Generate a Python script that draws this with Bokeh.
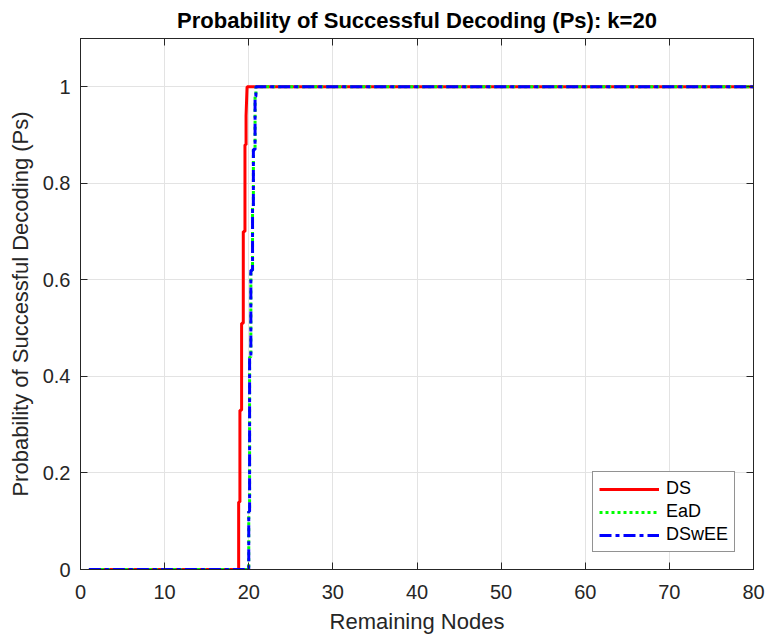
from bokeh.plotting import figure
from bokeh.models import Range1d, LinearAxis, FixedTicker
from bokeh.embed import file_html
from bokeh.resources import INLINE

# ---- data ----
x_ticks = [0, 10, 20, 30, 40, 50, 60, 70, 80]
x_tick_labels = ["0", "10", "20", "30", "40", "50", "60", "70", "80"]
y_ticks = [0, 0.2, 0.4, 0.6, 0.8, 1.0]
y_tick_labels = ["0", "0.2", "0.4", "0.6", "0.8", "1"]

ds_x = [1, 18.8, 18.8, 18.95, 18.95, 19.15, 19.15, 19.35, 19.35, 19.55, 19.55, 19.68, 19.68, 19.8, 80]
ds_y = [0, 0, 0.14, 0.14, 0.33, 0.33, 0.51, 0.51, 0.70, 0.70, 0.88, 0.88, 0.94, 1.0, 1.0]

ead_x = [1, 20.0, 20.0, 20.1, 20.1, 20.25, 20.25, 20.45, 20.45, 20.55, 20.55, 20.75, 20.75, 20.85, 20.85, 80]
ead_y = [0, 0, 0.12, 0.12, 0.44, 0.44, 0.62, 0.62, 0.75, 0.75, 0.87, 0.87, 0.98, 0.98, 1.0, 1.0]

dswee_x = [1, 20.0, 20.0, 20.1, 20.1, 20.25, 20.25, 20.45, 20.45, 20.55, 20.55, 20.75, 20.75, 20.85, 20.85, 80]
dswee_y = [0, 0, 0.12, 0.12, 0.44, 0.44, 0.62, 0.62, 0.75, 0.75, 0.87, 0.87, 0.98, 0.98, 1.0, 1.0]

FONT = "Liberation Sans"
AX = "#262626"

p = figure(width=765, height=636, x_range=Range1d(0, 80), y_range=Range1d(0, 1.1),
           output_backend="svg", toolbar_location=None,
           min_border_left=80, min_border_right=12, min_border_top=38, min_border_bottom=67,
           title="Probability of Successful Decoding (Ps): k=20")

p.title.text_font = FONT
p.title.text_font_size = "22px"
p.title.text_font_style = "bold"
p.title.text_color = "black"
p.title.align = "center"
p.title.standoff = 11

p.background_fill_color = "white"
p.border_fill_color = "white"
p.outline_line_color = AX
p.outline_line_width = 1

p.line(ds_x, ds_y, line_color="#ff0000", line_width=3, legend_label="DS")
p.line(ead_x, ead_y, line_color="#00ff00", line_width=3, line_dash="3 3", legend_label="EaD")
p.line(dswee_x, dswee_y, line_color="#0000ff", line_width=3, line_dash="12 4 4 4", legend_label="DSwEE")

for ax in (p.xaxis[0], p.yaxis[0]):
    ax.axis_line_color = AX
    ax.major_tick_line_color = AX
    ax.major_tick_in = 7
    ax.major_tick_out = 0
    ax.minor_tick_line_color = None
    ax.major_label_text_font = FONT
    ax.major_label_text_font_size = "20px"
    ax.major_label_text_color = AX
    ax.axis_label_text_font = FONT
    ax.axis_label_text_font_size = "22px"
    ax.axis_label_text_font_style = "normal"
    ax.axis_label_text_color = AX

p.xaxis[0].ticker = FixedTicker(ticks=x_ticks)
p.xaxis[0].major_label_overrides = {t: l for t, l in zip(x_ticks, x_tick_labels)}
p.yaxis[0].ticker = FixedTicker(ticks=y_ticks)
p.yaxis[0].major_label_overrides = {t: l for t, l in zip(y_ticks, y_tick_labels)}
p.xaxis[0].axis_label = "Remaining Nodes"
p.yaxis[0].axis_label = "Probability of Successful Decoding (Ps)"
p.xaxis[0].major_label_standoff = 15
p.xaxis[0].axis_label_standoff = 7
p.yaxis[0].major_label_standoff = 10
p.yaxis[0].axis_label_standoff = 7

for loc, ticks in (("above", x_ticks), ("right", y_ticks)):
    ax2 = LinearAxis(ticker=FixedTicker(ticks=ticks))
    ax2.axis_line_color = AX
    ax2.major_tick_line_color = AX
    ax2.major_tick_in = 7
    ax2.major_tick_out = 0
    ax2.minor_tick_line_color = None
    ax2.major_label_text_color = None
    ax2.major_label_text_font_size = "1px"
    ax2.major_label_standoff = 0
    p.add_layout(ax2, loc)

p.grid.grid_line_color = "#e3e3e3"
p.grid.grid_line_width = 1
p.xgrid.ticker = FixedTicker(ticks=x_ticks)
p.ygrid.ticker = FixedTicker(ticks=y_ticks)

lg = p.legend[0]
lg.location = (512, 17)
lg.border_line_color = AX
lg.border_line_width = 1
lg.background_fill_color = "white"
lg.background_fill_alpha = 1
lg.label_text_font = FONT
lg.label_text_font_size = "18px"
lg.label_text_color = "black"
lg.glyph_width = 60
lg.glyph_height = 20
lg.label_height = 20
lg.spacing = 2
lg.padding = 6
lg.margin = 0
lg.label_standoff = 7

open("out.html", "w").write(file_html(p, INLINE))
